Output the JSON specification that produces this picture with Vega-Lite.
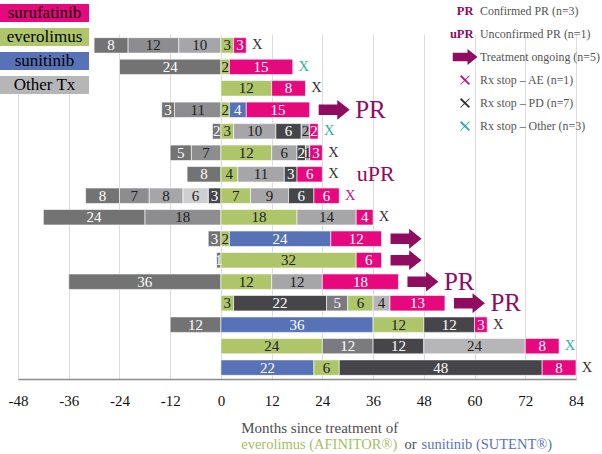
{
  "$schema": "https://vega.github.io/schema/vega-lite/v6.json",
  "width": 558,
  "height": 345,
  "autosize": {"type": "none"},
  "padding": {"left": 18, "top": 34, "right": 26, "bottom": 75},
  "background": "white",
  "config": {"view": {"stroke": null}, "font": "Liberation Serif"},
  "datasets": {
    "segments": [
      {"pt": 1, "seq": 1, "tx": "Other Tx 3", "months": -10},
      {"pt": 1, "seq": 2, "tx": "Other Tx 2", "months": -12},
      {"pt": 1, "seq": 3, "tx": "Other Tx 1", "months": -8},
      {"pt": 1, "seq": 4, "tx": "everolimus", "months": 3},
      {"pt": 1, "seq": 5, "tx": "surufatinib", "months": 3},
      {"pt": 2, "seq": 1, "tx": "Other Tx 1", "months": -24},
      {"pt": 2, "seq": 2, "tx": "everolimus", "months": 2},
      {"pt": 2, "seq": 3, "tx": "surufatinib", "months": 15},
      {"pt": 3, "seq": 1, "tx": "everolimus", "months": 12},
      {"pt": 3, "seq": 2, "tx": "surufatinib", "months": 8},
      {"pt": 4, "seq": 1, "tx": "Other Tx 2", "months": -11},
      {"pt": 4, "seq": 2, "tx": "Other Tx 1", "months": -3},
      {"pt": 4, "seq": 3, "tx": "everolimus", "months": 2},
      {"pt": 4, "seq": 4, "tx": "sunitinib", "months": 4},
      {"pt": 4, "seq": 5, "tx": "surufatinib", "months": 15},
      {"pt": 5, "seq": 1, "tx": "Other Tx 1", "months": -2},
      {"pt": 5, "seq": 2, "tx": "everolimus", "months": 3},
      {"pt": 5, "seq": 3, "tx": "Other Tx 3", "months": 10},
      {"pt": 5, "seq": 4, "tx": "Other Tx 5", "months": 6},
      {"pt": 5, "seq": 5, "tx": "Other Tx 3", "months": 2},
      {"pt": 5, "seq": 6, "tx": "surufatinib", "months": 2},
      {"pt": 6, "seq": 1, "tx": "Other Tx 2", "months": -7},
      {"pt": 6, "seq": 2, "tx": "Other Tx 1", "months": -5},
      {"pt": 6, "seq": 3, "tx": "everolimus", "months": 12},
      {"pt": 6, "seq": 4, "tx": "Other Tx 3", "months": 6},
      {"pt": 6, "seq": 5, "tx": "Other Tx 5", "months": 2},
      {"pt": 6, "seq": 6, "tx": "Other Tx 3", "months": 1},
      {"pt": 6, "seq": 7, "tx": "surufatinib", "months": 3},
      {"pt": 7, "seq": 1, "tx": "Other Tx 1", "months": -8},
      {"pt": 7, "seq": 2, "tx": "everolimus", "months": 4},
      {"pt": 7, "seq": 3, "tx": "Other Tx 3", "months": 11},
      {"pt": 7, "seq": 4, "tx": "Other Tx 5", "months": 3},
      {"pt": 7, "seq": 5, "tx": "surufatinib", "months": 6},
      {"pt": 8, "seq": 1, "tx": "Other Tx 5", "months": -3},
      {"pt": 8, "seq": 2, "tx": "Other Tx 4", "months": -6},
      {"pt": 8, "seq": 3, "tx": "Other Tx 3", "months": -8},
      {"pt": 8, "seq": 4, "tx": "Other Tx 2", "months": -7},
      {"pt": 8, "seq": 5, "tx": "Other Tx 1", "months": -8},
      {"pt": 8, "seq": 6, "tx": "everolimus", "months": 7},
      {"pt": 8, "seq": 7, "tx": "Other Tx 3", "months": 9},
      {"pt": 8, "seq": 8, "tx": "Other Tx 5", "months": 6},
      {"pt": 8, "seq": 9, "tx": "surufatinib", "months": 6},
      {"pt": 9, "seq": 1, "tx": "Other Tx 2", "months": -18},
      {"pt": 9, "seq": 2, "tx": "Other Tx 1", "months": -24},
      {"pt": 9, "seq": 3, "tx": "everolimus", "months": 18},
      {"pt": 9, "seq": 4, "tx": "Other Tx 3", "months": 14},
      {"pt": 9, "seq": 5, "tx": "surufatinib", "months": 4},
      {"pt": 10, "seq": 1, "tx": "Other Tx 1", "months": -3},
      {"pt": 10, "seq": 2, "tx": "everolimus", "months": 2},
      {"pt": 10, "seq": 3, "tx": "sunitinib", "months": 24},
      {"pt": 10, "seq": 4, "tx": "surufatinib", "months": 12},
      {"pt": 11, "seq": 1, "tx": "Other Tx 1", "months": -1},
      {"pt": 11, "seq": 2, "tx": "everolimus", "months": 32},
      {"pt": 11, "seq": 3, "tx": "surufatinib", "months": 6},
      {"pt": 12, "seq": 1, "tx": "Other Tx 1", "months": -36},
      {"pt": 12, "seq": 2, "tx": "everolimus", "months": 12},
      {"pt": 12, "seq": 3, "tx": "Other Tx 3", "months": 12},
      {"pt": 12, "seq": 4, "tx": "surufatinib", "months": 18},
      {"pt": 13, "seq": 1, "tx": "everolimus", "months": 3},
      {"pt": 13, "seq": 2, "tx": "Other Tx 5", "months": 22},
      {"pt": 13, "seq": 3, "tx": "Other Tx 6", "months": 5},
      {"pt": 13, "seq": 4, "tx": "everolimus", "months": 6},
      {"pt": 13, "seq": 5, "tx": "Other Tx", "months": 4},
      {"pt": 13, "seq": 6, "tx": "surufatinib", "months": 13},
      {"pt": 14, "seq": 1, "tx": "Other Tx 1", "months": -12},
      {"pt": 14, "seq": 2, "tx": "sunitinib", "months": 36},
      {"pt": 14, "seq": 3, "tx": "everolimus", "months": 12},
      {"pt": 14, "seq": 4, "tx": "Other Tx 5", "months": 12},
      {"pt": 14, "seq": 5, "tx": "surufatinib", "months": 3},
      {"pt": 15, "seq": 1, "tx": "everolimus", "months": 24},
      {"pt": 15, "seq": 2, "tx": "Other Tx 6", "months": 12},
      {"pt": 15, "seq": 3, "tx": "Other Tx 5", "months": 12},
      {"pt": 15, "seq": 4, "tx": "Other Tx", "months": 24},
      {"pt": 15, "seq": 5, "tx": "surufatinib", "months": 8},
      {"pt": 16, "seq": 1, "tx": "sunitinib", "months": 22},
      {"pt": 16, "seq": 2, "tx": "everolimus", "months": 6},
      {"pt": 16, "seq": 3, "tx": "Other Tx 5", "months": 48},
      {"pt": 16, "seq": 4, "tx": "surufatinib", "months": 8}
    ],
    "events": [
      {"pt": 1, "end": 6, "status": "Rx stop – PD (n=7)"},
      {"pt": 2, "end": 17, "status": "Rx stop – Other (n=3)"},
      {"pt": 3, "end": 20, "status": "Rx stop – PD (n=7)"},
      {"pt": 4, "end": 21, "status": "Treatment ongoing (n=5)"},
      {"pt": 5, "end": 23, "status": "Rx stop – Other (n=3)"},
      {"pt": 6, "end": 24, "status": "Rx stop – PD (n=7)"},
      {"pt": 7, "end": 24, "status": "Rx stop – PD (n=7)"},
      {"pt": 8, "end": 28, "status": "Rx stop – AE (n=1)"},
      {"pt": 9, "end": 36, "status": "Rx stop – PD (n=7)"},
      {"pt": 10, "end": 38, "status": "Treatment ongoing (n=5)"},
      {"pt": 11, "end": 38, "status": "Treatment ongoing (n=5)"},
      {"pt": 12, "end": 42, "status": "Treatment ongoing (n=5)"},
      {"pt": 13, "end": 53, "status": "Treatment ongoing (n=5)"},
      {"pt": 14, "end": 63, "status": "Rx stop – PD (n=7)"},
      {"pt": 15, "end": 80, "status": "Rx stop – Other (n=3)"},
      {"pt": 16, "end": 84, "status": "Rx stop – PD (n=7)"}
    ],
    "responses": [
      {"pt": 4, "end": 21, "resp": "PR"},
      {"pt": 7, "end": 24, "resp": "uPR"},
      {"pt": 12, "end": 42, "resp": "PR"},
      {"pt": 13, "end": 53, "resp": "PR"}
    ]
  },
  "resolve": {"axis": {"x": "independent"}},
  "layer": [
    {
      "data": {"name": "segments"},
      "mark": {"type": "bar", "stroke": "white", "strokeWidth": 0.6},
      "encoding": {
        "y": {"field": "pt", "type": "ordinal", "axis": null, "scale": {"paddingInner": 0.28, "paddingOuter": 0.17}},
        "x": {
          "field": "months", "type": "quantitative", "stack": "zero",
          "scale": {"domain": [-48, 84], "nice": false, "zero": false},
          "axis": {
            "orient": "bottom",
            "values": [-48, -36, -24, -12, 0, 12, 24, 36, 48, 60, 72, 84],
            "labelExpr": "toString(datum.value)",
            "grid": true, "gridColor": "#dcdcdc", "gridWidth": 1,
            "ticks": false, "domain": true, "domainColor": "#8a8a8a", "domainWidth": 1.5,
            "labelFont": "Liberation Serif", "labelFontSize": 15, "labelColor": "#111111",
            "labelPadding": 14, "labelFlush": false, "labelOverlap": false,
            "title": "Months since treatment of",
            "titleFont": "Liberation Serif", "titleFontSize": 15, "titleFontWeight": "normal",
            "titleColor": "#4d4d4d", "titleX": 222.7, "titleY": 53.3,
            "titleAlign": "left", "titleBaseline": "alphabetic", "titleAnchor": "start"
          }
        },
        "order": {"field": "seq", "type": "quantitative"},
        "color": {
          "field": "tx", "type": "nominal",
          "scale": {
            "domain": ["surufatinib", "everolimus", "sunitinib", "Other Tx", "Other Tx 1", "Other Tx 2", "Other Tx 3", "Other Tx 4", "Other Tx 5", "Other Tx 6"],
            "range": ["#e8087e", "#aec56a", "#5872b8", "#b6b6b8", "#737373", "#8d8d90", "#a6a6a9", "#cfcfd1", "#46464a", "#7b7b7f"]
          },
          "legend": {
            "orient": "none", "legendX": -18, "legendY": -30.5, "direction": "vertical",
            "title": null, "values": ["surufatinib", "everolimus", "sunitinib", "Other Tx"],
            "symbolType": "M-1,-0.95H8.368V0.95H-1Z", "symbolSize": 361, "symbolStrokeWidth": 0,
            "rowPadding": 5, "padding": 0, "fillColor": "white",
            "labelFont": "Liberation Serif", "labelFontSize": 17, "labelAlign": "center",
            "labelOffset": 25.5, "labelBaseline": "middle", "labelLimit": 200,
            "encode": {"labels": {"update": {"fill": {"signal": "datum.value === 'everolimus' || datum.value === 'Other Tx' ? '#3a3a3a' : '#ffffff'"}}}}
          }
        }
      }
    },
    {
      "data": {"name": "segments"},
      "transform": [{"calculate": "abs(datum.months)", "as": "label"}],
      "mark": {"type": "text", "font": "Liberation Serif", "fontSize": 15, "baseline": "middle", "align": "center"},
      "encoding": {
        "y": {"field": "pt", "type": "ordinal", "axis": null},
        "x": {"field": "months", "type": "quantitative", "stack": "zero", "bandPosition": 0.5, "axis": null},
        "order": {"field": "seq", "type": "quantitative"},
        "text": {"field": "label", "type": "quantitative"},
        "color": {
          "condition": {"test": "indexof(['surufatinib','sunitinib','Other Tx 1','Other Tx 5','Other Tx 6'], datum.tx) >= 0", "value": "#ffffff"},
          "value": "#222222"
        }
      }
    },
    {
      "data": {"name": "events"},
      "transform": [{"filter": "datum.status !== 'Treatment ongoing (n=5)'"}],
      "mark": {"type": "text", "text": "X", "dx": 11, "align": "center", "baseline": "middle", "font": "Liberation Serif", "fontSize": 14.5},
      "encoding": {
        "y": {"field": "pt", "type": "ordinal", "axis": null},
        "x": {
          "field": "end", "type": "quantitative",
          "axis": {
            "orient": "bottom", "labels": false, "ticks": false, "domain": false, "grid": false,
            "title": "everolimus (AFINITOR®)", "titleFont": "Liberation Serif", "titleFontSize": 14.5,
            "titleFontWeight": "normal", "titleColor": "#a3bf62", "titleX": 222.7, "titleY": 69,
            "titleAlign": "left", "titleBaseline": "alphabetic", "titleAnchor": "start"
          }
        },
        "fill": {
          "field": "status", "type": "nominal",
          "scale": {
            "domain": ["Confirmed PR (n=3)", "Unconfirmed PR (n=1)", "Treatment ongoing (n=5)", "Rx stop – AE (n=1)", "Rx stop – PD (n=7)", "Rx stop – Other (n=3)"],
            "range": ["#8f0c60", "#8f0c60", "#8f0c60", "#bb1a7e", "#333333", "#2fb0a2"]
          },
          "legend": {
            "orient": "none", "legendX": 434.5, "legendY": -32, "direction": "vertical", "title": null,
            "symbolSize": 625, "symbolStrokeWidth": 0, "clipHeight": 18, "rowPadding": 5, "padding": 0,
            "labelFont": "Liberation Serif", "labelFontSize": 11.9, "labelColor": "#555555",
            "labelOffset": 2.5, "labelBaseline": "middle", "labelLimit": 200
          }
        }
      }
    },
    {
      "data": {"name": "events"},
      "transform": [{"filter": "datum.status === 'Treatment ongoing (n=5)'"}],
      "mark": {"type": "point", "filled": true, "size": 961, "xOffset": 24.5, "strokeWidth": 0, "opacity": 1},
      "encoding": {
        "y": {"field": "pt", "type": "ordinal", "axis": null},
        "x": {
          "field": "end", "type": "quantitative",
          "axis": {
            "orient": "bottom", "labels": false, "ticks": false, "domain": false, "grid": false,
            "title": "or", "titleFont": "Liberation Serif", "titleFontSize": 14.5,
            "titleFontWeight": "normal", "titleColor": "#4d4d4d", "titleX": 386, "titleY": 69,
            "titleAlign": "left", "titleBaseline": "alphabetic", "titleAnchor": "start"
          }
        },
        "fill": {
          "field": "status", "type": "nominal",
          "legend": {
            "orient": "none", "legendX": 434.5, "legendY": -32, "direction": "vertical", "title": null,
            "symbolSize": 625, "symbolStrokeWidth": 0, "clipHeight": 18, "rowPadding": 5, "padding": 0,
            "labelFont": "Liberation Serif", "labelFontSize": 11.9, "labelColor": "#555555",
            "labelOffset": 2.5, "labelBaseline": "middle", "labelLimit": 200
          }
        },
        "shape": {
          "field": "status", "type": "nominal",
          "scale": {
            "domain": ["Confirmed PR (n=3)", "Unconfirmed PR (n=1)", "Treatment ongoing (n=5)", "Rx stop – AE (n=1)", "Rx stop – PD (n=7)", "Rx stop – Other (n=3)"],
            "range": [
              "M0,0",
              "M0,0",
              "M-1,-0.34H0.2V-0.64L1,0L0.2,0.64V0.34H-1Z",
              "M-0.4,-0.29L-0.29,-0.4L0.4,0.29L0.29,0.4Z M0.38,-0.33L-0.33,0.38L-0.38,0.33L0.33,-0.38Z",
              "M-0.4,-0.29L-0.29,-0.4L0.4,0.29L0.29,0.4Z M0.38,-0.33L-0.33,0.38L-0.38,0.33L0.33,-0.38Z",
              "M-0.4,-0.29L-0.29,-0.4L0.4,0.29L0.29,0.4Z M0.38,-0.33L-0.33,0.38L-0.38,0.33L0.33,-0.38Z"
            ]
          },
          "legend": {
            "orient": "none", "legendX": 434.5, "legendY": -32, "direction": "vertical", "title": null,
            "symbolSize": 625, "symbolStrokeWidth": 0, "clipHeight": 18, "rowPadding": 5, "padding": 0,
            "labelFont": "Liberation Serif", "labelFontSize": 11.9, "labelColor": "#555555",
            "labelOffset": 2.5, "labelBaseline": "middle", "labelLimit": 200
          }
        }
      }
    },
    {
      "data": {"name": "responses"},
      "transform": [{"filter": "datum.resp === 'PR'"}],
      "mark": {"type": "text", "dx": 45.5, "align": "left", "baseline": "middle", "font": "Liberation Serif", "fontSize": 25, "color": "#8f0c60"},
      "encoding": {
        "y": {"field": "pt", "type": "ordinal", "axis": null},
        "x": {
          "field": "end", "type": "quantitative",
          "axis": {
            "orient": "bottom", "labels": false, "ticks": false, "domain": false, "grid": false,
            "title": "sunitinib (SUTENT®)", "titleFont": "Liberation Serif", "titleFontSize": 14.5,
            "titleFontWeight": "normal", "titleColor": "#5a73b8", "titleX": 403, "titleY": 69,
            "titleAlign": "left", "titleBaseline": "alphabetic", "titleAnchor": "start"
          }
        },
        "text": {"field": "resp", "type": "nominal"},
        "opacity": {
          "field": "resp", "type": "nominal",
          "scale": {"domain": ["PR", "uPR"], "range": [1, 1]},
          "legend": {
            "orient": "none", "legendX": 443, "legendY": -32, "direction": "vertical", "title": null,
            "symbolSize": 0, "symbolOpacity": 0, "symbolStrokeWidth": 0, "clipHeight": 18, "rowPadding": 5, "padding": 0,
            "labelFont": "Liberation Serif", "labelFontSize": 12.5, "labelFontWeight": "bold", "labelColor": "#8f0c60",
            "labelAlign": "right", "labelOffset": 0, "labelBaseline": "middle"
          }
        }
      }
    },
    {
      "data": {"name": "responses"},
      "transform": [{"filter": "datum.resp === 'uPR'"}],
      "mark": {"type": "text", "dx": 34.5, "align": "left", "baseline": "middle", "font": "Liberation Serif", "fontSize": 22, "color": "#8f0c60"},
      "encoding": {
        "y": {"field": "pt", "type": "ordinal", "axis": null},
        "x": {"field": "end", "type": "quantitative", "axis": null},
        "text": {"field": "resp", "type": "nominal"},
        "opacity": {"field": "resp", "type": "nominal"}
      }
    }
  ]
}
